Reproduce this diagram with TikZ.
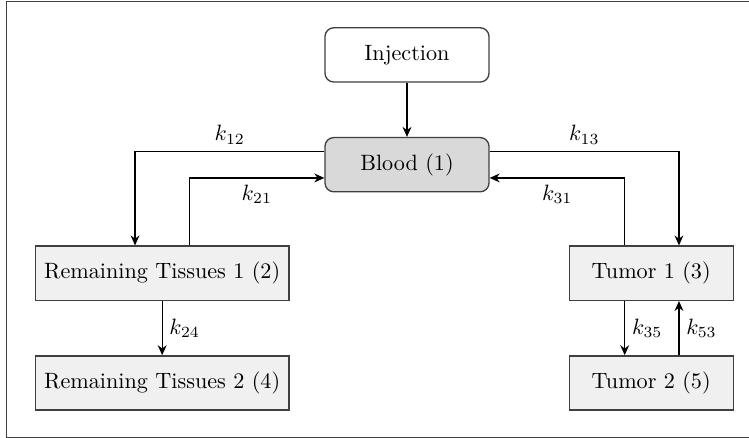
\documentclass[tikz,border=0pt]{standalone}
\usepackage{amsmath}
\usetikzlibrary{arrows.meta}

\begin{document}
\begin{tikzpicture}[
      >={Stealth[length=4.5pt,width=4pt]},
      box/.style={draw=black!75, semithick, align=center, inner xsep=4pt,
        minimum width=2.6cm, minimum height=0.86cm},
      tissue/.style={box, fill=black!6},
      source/.style={box, rounded corners=4pt, fill=white},
      central/.style={box, rounded corners=4pt, fill=black!15},
      flow/.style={->, semithick},
      rate/.style={inner sep=3pt}
    ]
    \useasboundingbox (0,0) rectangle (11.87,-6.94);
    \draw[black!75] (0.11,-0.02) rectangle (12.3,-6.925);

    \node[source]  (inj)   at (6.45,-0.87) {Injection};
    \node[central] (blood) at (6.45,-2.61) {Blood (1)};

    \node[tissue] (rt1) at (2.57,-4.33) {Remaining Tissues 1 (2)};
    \node[tissue] (rt2) at (2.57,-6.07) {Remaining Tissues 2 (4)};
    \node[tissue] (t1)  at (10.32,-4.33) {Tumor 1 (3)};
    \node[tissue] (t2)  at (10.32,-6.07) {Tumor 2 (5)};

    \draw[flow] (inj) -- (blood);

    % blood <-> remaining tissues
    \draw[flow] ([yshift=0.21cm]blood.west) -| ([xshift=-0.43cm]rt1.north)
      node[rate, above, pos=0.25] (l12) {$k_{12}$};
    \draw[flow] ([xshift=0.43cm]rt1.north) |- ([yshift=-0.21cm]blood.west)
      node[rate, below, pos=0.75] (l21) {$k_{21}$};
    \draw[flow] (rt1) -- (rt2) node[rate, right, midway] (l24) {$k_{24}$};

    % blood <-> tumor
    \draw[flow] ([yshift=0.21cm]blood.east) -| ([xshift=0.44cm]t1.north)
      node[rate, above, pos=0.25] (l13) {$k_{13}$};
    \draw[flow] ([xshift=-0.42cm]t1.north) |- ([yshift=-0.21cm]blood.east)
      node[rate, below, pos=0.75] (l31) {$k_{31}$};
    \draw[flow] ([xshift=-0.42cm]t1.south) -- ([xshift=-0.42cm]t2.north)
      node[rate, right, midway] (l35) {$k_{35}$};
    \draw[flow] ([xshift=0.44cm]t2.north) -- ([xshift=0.44cm]t1.south)
      node[rate, right, midway] (l53) {$k_{53}$};
  \end{tikzpicture}
\end{document}
